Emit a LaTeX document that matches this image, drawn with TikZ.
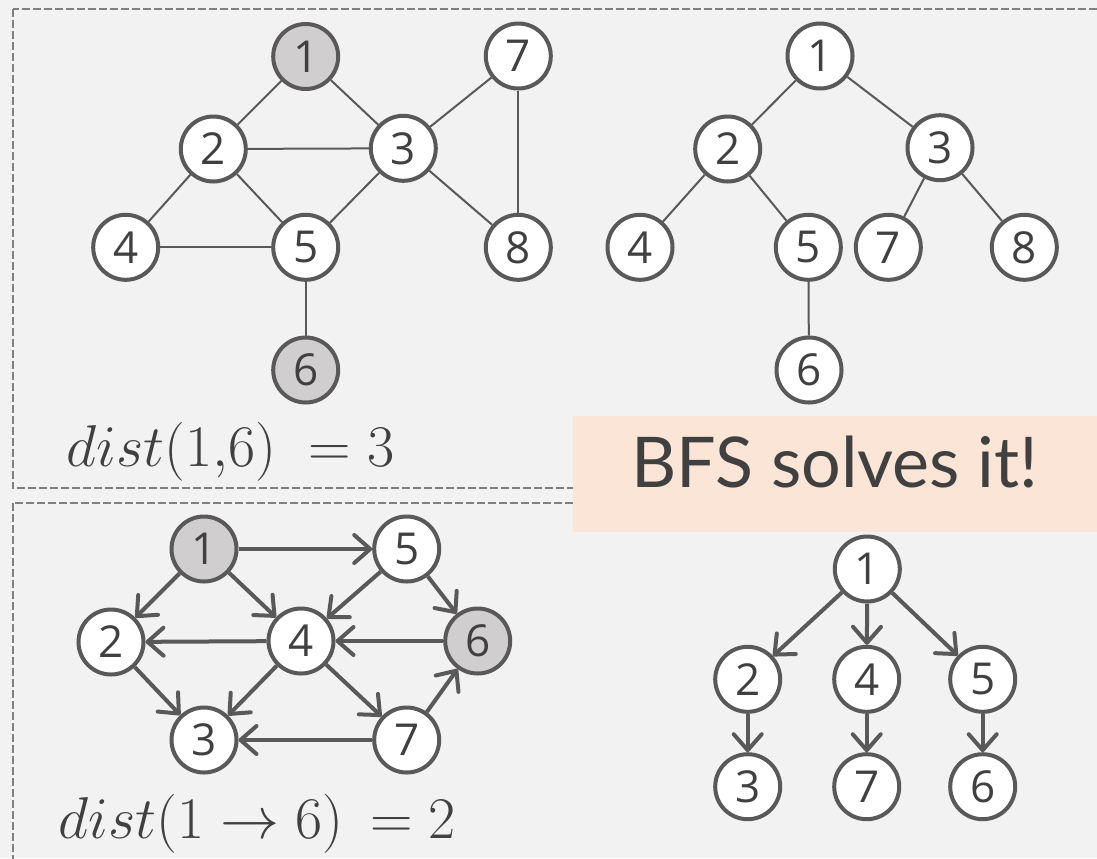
\RequirePackage{fix-cm}
\documentclass[tikz,border=0pt]{standalone}
\usepackage{fontspec}
\setmainfont{Open Sans}
\newfontfamily\bannerfont{Lato}
\usetikzlibrary{arrows.meta}
\definecolor{bgcol}{HTML}{F2F2F2}
\definecolor{linecol}{HTML}{595959}
\definecolor{markcol}{HTML}{D0CECE}
\definecolor{textcol}{HTML}{404040}
\definecolor{framecol}{HTML}{7F7F7F}
\definecolor{bannercol}{HTML}{FBE5D6}

\begin{document}
\begin{tikzpicture}[x=0.5pt, y=-0.5pt,
    vertex/.style={circle, draw=linecol, line width=2pt, fill=white,
                   minimum size=32.5pt, inner sep=0pt, text=textcol,
                   font=\fontsize{22}{22}\selectfont},
    seen/.style={vertex, fill=markcol},
    link/.style={draw=linecol, line width=1pt},
    hop/.style={draw=linecol, line width=2pt,
                -{Straight Barb[round, length=8pt, width=14pt]}},
    frame/.style={draw=framecol, line width=1pt, dash pattern=on 4pt off 1.5pt},
    formula/.style={text=textcol, font=\fontsize{29.5}{30}\selectfont,
                    anchor=base west, inner sep=0pt},
    banner/.style={fill=bannercol, text=textcol, inner sep=0pt,
                   minimum width=262pt, minimum height=58pt,
                   text height=26pt, text depth=13pt,
                   font=\bannerfont\fontsize{35}{35}\selectfont}
]
\useasboundingbox (0,0) rectangle (1097,858);
\fill[bgcol] (0,0) rectangle (1097,858);

% the two panels
\draw[frame] (12.5,8.5) rectangle (1120,488);
\draw[frame] (12.5,503) rectangle (1120,880);

% undirected graph
\node[seen]   (g1) at (305.7,56.5) {1};
\node[vertex] (g2) at (213.3,149) {2};
\node[vertex] (g3) at (403.3,148.3) {3};
\node[vertex] (g4) at (125.7,247.3) {4};
\node[vertex] (g5) at (305.7,247.3) {5};
\node[seen]   (g6) at (305.7,370) {6};
\node[vertex] (g7) at (518.3,56) {7};
\node[vertex] (g8) at (518.3,247.3) {8};
\draw[link] (g1) -- (g2);
\draw[link] (g1) -- (g3);
\draw[link] (g2) -- (g3);
\draw[link] (g2) -- (g4);
\draw[link] (g2) -- (g5);
\draw[link] (g3) -- (g5);
\draw[link] (g3) -- (g7);
\draw[link] (g3) -- (g8);
\draw[link] (g4) -- (g5);
\draw[link] (g5) -- (g6);
\draw[link] (g7) -- (g8);
\node[formula] (dist1) at (66,466.7) {$dist(1{,}6)\;=3$};

% its BFS tree
\node[vertex] (t1) at (820,56) {1};
\node[vertex] (t2) at (727.7,149) {2};
\node[vertex] (t3) at (940,147.7) {3};
\node[vertex] (t4) at (640,247.3) {4};
\node[vertex] (t5) at (808.3,247.3) {5};
\node[vertex] (t7) at (888.3,247.3) {7};
\node[vertex] (t8) at (1024.3,247.3) {8};
\node[vertex] (t6) at (809,370) {6};
\draw[link] (t1) -- (t2);
\draw[link] (t1) -- (t3);
\draw[link] (t2) -- (t4);
\draw[link] (t2) -- (t5);
\draw[link] (t3) -- (t7);
\draw[link] (t3) -- (t8);
\draw[link] (t5) -- (t6);

% directed graph
\node[seen]   (d1) at (204,549) {1};
\node[vertex] (d2) at (111,642) {2};
\node[vertex] (d3) at (204,740) {3};
\node[vertex] (d4) at (301,641) {4};
\node[vertex] (d5) at (406.7,549) {5};
\node[seen]   (d6) at (477.7,641) {6};
\node[vertex] (d7) at (406.7,740) {7};
\draw[hop] (d1) -- (d5);
\draw[hop] (d1) -- (d2);
\draw[hop] (d1) -- (d4);
\draw[hop] (d5) -- (d4);
\draw[hop] (d5) -- (d6);
\draw[hop] (d4) -- (d2);
\draw[hop] (d6) -- (d4);
\draw[hop] (d2) -- (d3);
\draw[hop] (d4) -- (d3);
\draw[hop] (d4) -- (d7);
\draw[hop] (d7) -- (d3);
\draw[hop] (d7) -- (d6);
\node[formula] (dist2) at (58,838) {$dist(1\to 6)\,=2$};

% its BFS tree
\node[vertex] (b1) at (867.3,569) {1};
\node[vertex] (b2) at (747.7,679.3) {2};
\node[vertex] (b4) at (866.7,679.3) {4};
\node[vertex] (b5) at (982.7,679.3) {5};
\node[vertex] (b3) at (747.7,786.7) {3};
\node[vertex] (b7) at (866.7,786.7) {7};
\node[vertex] (b6) at (982.7,786.7) {6};
\draw[hop] (b1) -- (b2);
\draw[hop] (b1) -- (b4);
\draw[hop] (b1) -- (b5);
\draw[hop] (b2) -- (b3);
\draw[hop] (b4) -- (b7);
\draw[hop] (b5) -- (b6);

\node[banner] (bfs) at (835,474) {BFS solves it!};
\end{tikzpicture}
\end{document}
